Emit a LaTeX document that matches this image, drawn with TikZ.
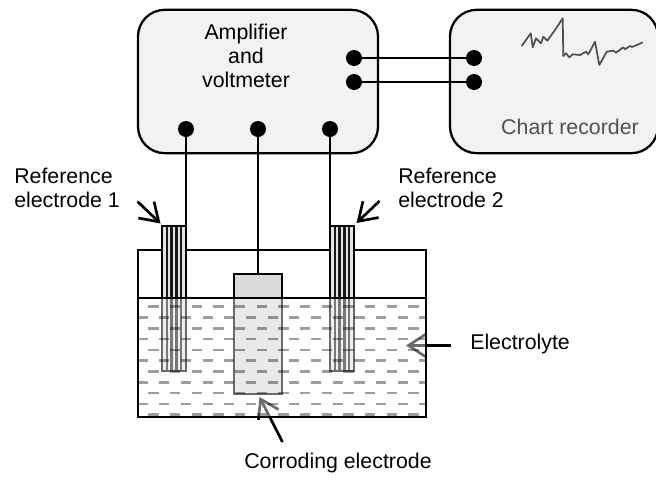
\documentclass[tikz,border=0pt]{standalone}
\usepackage{fontspec}
\setmainfont{Liberation Sans}
\usetikzlibrary{arrows.meta}
\definecolor{boxfill}{HTML}{F2F2F2}
\definecolor{platefill}{HTML}{DADADA}
\definecolor{stripefill}{HTML}{E4E4E4}
\definecolor{softtext}{HTML}{505050}
\tikzset{
  vbox/.style={draw=black,fill=boxfill,line width=1.7pt,rounded corners=20pt,minimum width=#1,minimum height=107.5pt,inner sep=0pt},
  vdot/.style={circle,fill=black,minimum size=12pt,inner sep=0pt},
  vlabel/.style={font=\fontsize{16}{18}\selectfont,align=left,inner sep=0pt},
  vwire/.style={line width=2.2pt,draw=black},
  varr/.style={-{Straight Barb[length=13pt,width=17pt,line width=2pt]},line width=2pt,draw=black},
  vstripe/.style={line width=1.7pt,draw=black!90},
  vedge/.style={line width=1.8pt,draw=black},
  vdash/.style={line width=2pt,draw=black,draw opacity=0.38}
}
\begin{document}
\begin{tikzpicture}[x=0.75pt,y=-0.75pt]
  \useasboundingbox (0,0) rectangle (656,479);
  \node[vbox=180pt] (amp) at (258,81.5) {};
  \node[vbox=156pt] (chart) at (554,81.5) {};
  \node[vlabel,align=center] (amptext) at (246,55.5) {Amplifier\\and\\voltmeter};
  \node[vlabel,text=softtext] (charttext) at (570,127) {Chart recorder};
  % terminals
  \foreach \name/\xx/\yy in {t1/186/129,t2/258/129,t3/330/129,a1/354/58,a2/354/82,c1/474/58,c2/474/82}
    \node[vdot] (\name) at (\xx,\yy) {};
  \draw[vwire] (a1) -- (c1);
  \draw[vwire] (a2) -- (c2);
  % trace on the chart
  \draw[line width=1.3pt,draw=softtext,line join=round] (521.7,46) -- (530.7,33.3) -- (532.7,47.3) -- (536,38.3) -- (541,43.3) -- (543.3,36.7) -- (547.3,40.7) -- (555,30) -- (562.7,18.3) -- (563.3,56) -- (566,53.3) -- (569.3,57.3) -- (572.7,54.3) -- (580,55) -- (586,51.7) -- (588.3,54.3) -- (595,41.7) -- (599.3,65) -- (606.7,51.7) -- (613.3,50.7) -- (616,52.7) -- (623.3,47.3) -- (625,49.3) -- (630,46) -- (632,47) -- (637,45) -- (642.7,42.3);
  % electrodes
  \coordinate (r1top) at (186,226);
  \coordinate (r2top) at (330,226);
  \coordinate (platetop) at (258,274);
  \fill[stripefill] (162,226) rectangle (186,371);
  \fill[stripefill] (330,226) rectangle (354,371);
  \foreach \xx in {166.8,171.6,176.4,181.2} \draw[vstripe] (\xx,226) -- (\xx,371);
  \foreach \xx in {334.8,339.6,344.4,349.2} \draw[vstripe] (\xx,226) -- (\xx,371);
  \draw[vedge,fill=platefill] (234,274) rectangle (282,394);
  \draw[vedge] (162,226) rectangle (186,371);
  \draw[vedge] (330,226) rectangle (354,371);
  \draw[vwire] (t1) -- (r1top);
  \draw[vwire] (t2) -- (platetop);
  \draw[vwire] (t3) -- (r2top);
  % pointers
  \coordinate (r1from) at (137.5,201.5);
  \coordinate (r1to) at (160.5,223.5);
  \coordinate (r2from) at (379.5,201);
  \coordinate (r2to) at (356.5,223);
  \coordinate (lytefrom) at (451,345.5);
  \coordinate (lyteto) at (406,345.5);
  \coordinate (platefrom) at (282.5,442);
  \coordinate (plateto) at (259.5,397);
  \draw[varr] (r1from) -- (r1to);
  \draw[varr] (r2from) -- (r2to);
  \draw[varr] (lytefrom) -- (lyteto);
  \draw[varr] (platefrom) -- (plateto);
  % liquid washes over what stands in it
  \fill[white,fill opacity=0.42] (138,298) rectangle (426,417);
  \begin{scope}
    \clip (138,298) rectangle (426,417);
    \foreach \row in {0,2,4,6,8,10}
      \foreach \col in {0,...,12}
        \draw[vdash] ({148.3+21.67*\col},{306.7+10.8*\row}) -- ++(10.3,0);
    \foreach \row in {1,3,5,7,9}
      \foreach \col in {0,...,13}
        \draw[vdash] ({137.5+21.67*\col},{306.7+10.8*\row}) -- ++(10.3,0);
  \end{scope}
  % tank
  \draw[vedge] (162,250) -- (138,250) -- (138,417) -- (426,417) -- (426,250) -- (354,250);
  \draw[vedge] (186,250) -- (330,250);
  \draw[vedge] (138,298) -- (426,298);
  % labels
  \node[vlabel,anchor=west] (r1text) at (14,188) {Reference\\electrode 1};
  \node[vlabel,anchor=west] (r2text) at (398,188) {Reference\\electrode 2};
  \node[vlabel,anchor=west] (lytetext) at (470,344) {Electrolyte};
  \node[vlabel] (platetext) at (338,463) {Corroding electrode};
\end{tikzpicture}
\end{document}
